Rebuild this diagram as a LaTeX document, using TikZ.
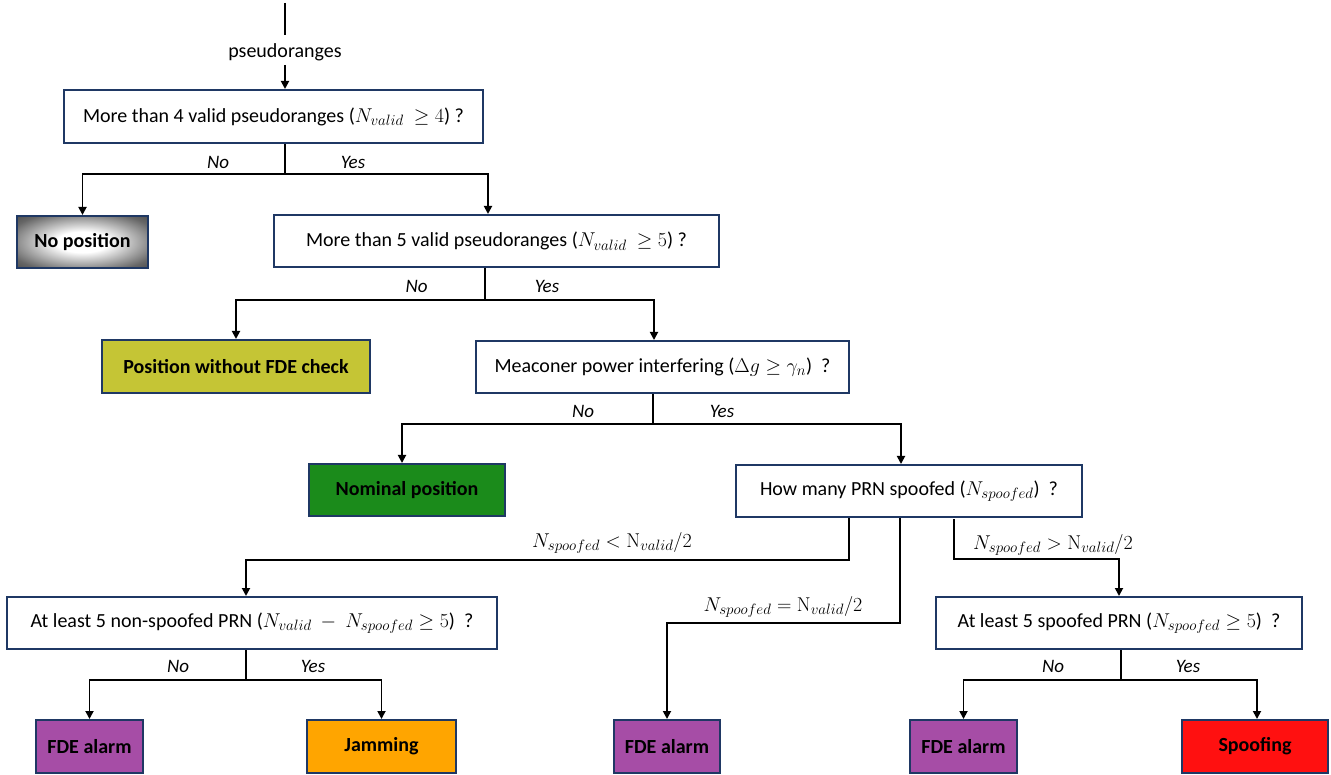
\RequirePackage{fix-cm}
\documentclass[tikz,border=0pt]{standalone}
\usepackage{fontspec}
\setmainfont{Carlito}
\DeclareMathSizes{20}{20}{15}{11}
\usetikzlibrary{arrows.meta}
\definecolor{navy}{RGB}{31,56,100}
\definecolor{olivey}{RGB}{197,197,53}
\definecolor{nomgreen}{RGB}{27,139,27}
\definecolor{fdepurple}{RGB}{166,77,166}
\definecolor{jamorange}{RGB}{255,165,0}
\definecolor{spoofred}{RGB}{255,16,16}
\newcommand{\uprN}{\mbox{\fontfamily{lmr}\selectfont N}}
\pgfdeclareradialshading{noposshade}{\pgfpoint{0bp}{0bp}}{color(0bp)=(white); color(10bp)=(white); color(30bp)=(black!60); color(42bp)=(black!78); color(50bp)=(black!82)}
\begin{document}
\begin{tikzpicture}[x=1pt,y=-1pt,
  qbox/.style={draw=navy, line width=2pt, fill=white, inner sep=0pt, font=\fontsize{20}{24}\selectfont},
  obox/.style={draw=navy, line width=2pt, inner sep=0pt, font=\fontsize{20}{24}\selectfont\bfseries},
  conn/.style={line width=1.8pt, draw=black},
  arr/.style={conn, -{Triangle[length=8pt,width=8pt]}},
  lab/.style={font=\fontsize{19}{23}\selectfont\itshape, inner sep=0pt},
  mlab/.style={font=\fontsize{20}{24}\selectfont, inner sep=0pt},
  plain/.style={font=\fontsize{20}{24}\selectfont, inner sep=0pt}]
\useasboundingbox (0,0) rectangle (1331,775);

% nodes
\node[qbox, minimum width=419, minimum height=53] (b1) at (273.5,116.5) {More than 4 valid pseudoranges ($N_{valid}\ \geq 4$) ?};
\node[obox, shading=noposshade, minimum width=131, minimum height=52] (nopos) at (82.5,242) {No position};
\node[qbox, minimum width=445, minimum height=52] (b2) at (496.5,241) {More than 5 valid pseudoranges ($N_{valid}\ \geq 5$) ?};
\node[obox, fill=olivey, minimum width=268, minimum height=53] (yel) at (236,366.5) {Position without FDE check};
\node[qbox, minimum width=373, minimum height=52] (b3) at (662.5,367) {Meaconer power interfering ($\Delta g \geq \gamma_n$)\ \ ?};
\node[obox, fill=nomgreen, minimum width=196, minimum height=52] (nom) at (407,490) {Nominal position};
\node[qbox, minimum width=346, minimum height=52] (b4) at (909,491) {How many PRN spoofed ($N_{spoofed}$)\ \ ?};
\node[qbox, minimum width=490, minimum height=52] (b5) at (252,623) {At least 5 non-spoofed PRN ($N_{valid}\ -\ N_{spoofed} \geq 5$)\ \ ?};
\node[qbox, minimum width=366, minimum height=52] (b6) at (1119,623) {At least 5 spoofed PRN ($N_{spoofed} \geq 5$)\ \ ?};
\node[obox, fill=fdepurple, minimum width=107, minimum height=53] (fde1) at (89.5,746.5) {FDE alarm};
\node[obox, fill=jamorange, minimum width=149, minimum height=53] (jam) at (381.5,746.5) {Jamming};
\node[obox, fill=fdepurple, minimum width=106, minimum height=53] (fde2) at (667,746.5) {FDE alarm};
\node[obox, fill=fdepurple, minimum width=107, minimum height=53] (fde3) at (963.5,746.5) {FDE alarm};
\node[obox, fill=spoofred, minimum width=146, minimum height=53] (spoof) at (1255,746.5) {Spoofing};

\node[plain] (pr) at (285,52) {pseudoranges};

% coordinates
\coordinate (t0) at (285,3);
\coordinate (t1) at (285,35);
\coordinate (t2) at (285,65);
\coordinate (j1) at (285,174);
\coordinate (x2) at (488,0);
\coordinate (j2) at (485,300);
\coordinate (x3) at (654,0);
\coordinate (j3) at (653,424);
\coordinate (xn) at (402,0);
\coordinate (x4) at (901,0);
\coordinate (l1) at (849,0);
\coordinate (l1c) at (849,560);
\coordinate (x5) at (246,0);
\coordinate (m1) at (900,0);
\coordinate (m1c) at (900,623);
\coordinate (r1) at (954,519);
\coordinate (r1c) at (954,559);
\coordinate (j5) at (246,680);
\coordinate (j6) at (1121,680);
\coordinate (xs) at (1257,0);

% connectors
\draw[conn] (t0) -- (t1);
\draw[arr] (t2) -- (b1.north -| t2);
\draw[conn] (b1.south -| j1) -- (j1);
\draw[arr] (j1) -| (nopos.north);
\draw[arr] (j1) -| (b2.north -| x2);

\draw[conn] (b2.south -| j2) -- (j2);
\draw[arr] (j2) -| (yel.north);
\draw[arr] (j2) -| (b3.north -| x3);

\draw[conn] (b3.south -| j3) -- (j3);
\draw[arr] (j3) -| (nom.north -| xn);
\draw[arr] (j3) -| (b4.north -| x4);

\draw[arr] (b4.south -| l1) -- (l1c) -| (b5.north -| x5);
\draw[arr] (b4.south -| m1) -- (m1c) -| (fde2.north);
\draw[arr] (r1) -- (r1c) -| (b6.north);

\draw[conn] (b5.south -| j5) -- (j5);
\draw[arr] (j5) -| (fde1.north);
\draw[arr] (j5) -| (jam.north);

\draw[conn] (b6.south -| j6) -- (j6);
\draw[arr] (j6) -| (fde3.north);
\draw[arr] (j6) -| (spoof.north -| xs);

% labels
\node[lab] (n1) at (218,162) {No};
\node[lab] (y1) at (353,162) {Yes};
\node[lab] (n2) at (416.5,286) {No};
\node[lab] (y2) at (547,286) {Yes};
\node[lab] (n3) at (583,411) {No};
\node[lab] (y3) at (722,411) {Yes};
\node[lab] (n5) at (178,666) {No};
\node[lab] (y5) at (313,666) {Yes};
\node[lab] (n6) at (1053,666) {No};
\node[lab] (y6) at (1188,666) {Yes};
\node[mlab] (lt) at (612,543) {$N_{spoofed} < \uprN_{valid}/2$};
\node[mlab] (eq) at (783,607) {$N_{spoofed} = \uprN_{valid}/2$};
\node[mlab] (gt) at (1053,545) {$N_{spoofed} > \uprN_{valid}/2$};
\end{tikzpicture}
\end{document}
